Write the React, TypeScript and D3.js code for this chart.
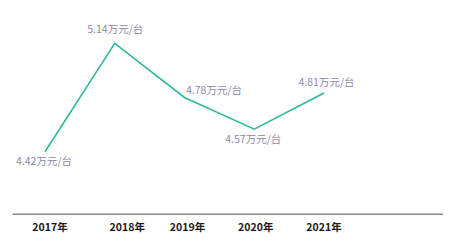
import React from "react";
import * as d3 from "d3";

const years = ["2017年", "2018年", "2019年", "2020年", "2021年"];
const prices = [4.42, 5.14, 4.78, 4.57, 4.81];
const unit = "万元/台";

// label placement per point (layout only)
const labelPlacement = [
  { dx: -1, dy: 13, anchor: "middle" },
  { dx: 0.5, dy: -10, anchor: "middle" },
  { dx: 1.5, dy: -4, anchor: "start" },
  { dx: -1, dy: 14, anchor: "middle" },
  { dx: 2.5, dy: -6.5, anchor: "middle" },
];
const yearLabelOffset = [5, 12.5, 3, 1.5, 0];

const W = 450;
const H = 250;

export default function App() {
  const x = d3.scalePoint<string>().domain(years).range([45, 324]);
  const y = d3.scaleLinear().domain([4.42, 5.14]).range([151.7, 43.3]);
  const line = d3
    .line<number>()
    .x((_, i) => x(years[i]) as number)
    .y((d) => y(d));

  return (
    <svg
      width={W}
      height={H}
      style={{ position: "absolute", left: 0, top: 0, background: "#fff" }}
    >
      <path d={line(prices) || ""} fill="none" stroke="#2fb99c" strokeWidth={1.6} />
      {prices.map((p, i) => {
        const lp = labelPlacement[i];
        return (
          <text
            key={i}
            x={(x(years[i]) as number) + lp.dx}
            y={y(p) + lp.dy}
            textAnchor={lp.anchor as any}
            fontFamily="'Noto Sans CJK SC', 'Noto Sans', sans-serif"
            fontSize={10.5}
            fill="#8c88a8"
          >
            {p.toFixed(2) + unit}
          </text>
        );
      })}
      <line x1={12.5} x2={443} y1={214.3} y2={214.3} stroke="#8a8a8a" strokeWidth={1.5} />
      {years.map((yr, i) => (
        <text
          key={yr}
          x={(x(yr) as number) + yearLabelOffset[i]}
          y={231}
          textAnchor="middle"
          fontFamily="'Noto Sans CJK SC', 'Noto Sans', sans-serif"
          fontWeight={700}
          fontSize={10.5}
          fill="#1a1a1a"
        >
          {yr}
        </text>
      ))}
    </svg>
  );
}
